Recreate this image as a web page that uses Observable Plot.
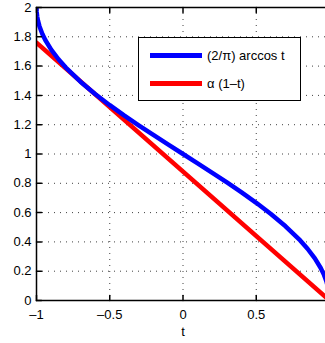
<!DOCTYPE html>
<html>
<head>
<meta charset="utf-8">
<script src="https://cdn.jsdelivr.net/npm/d3@7"></script>
<script src="https://cdn.jsdelivr.net/npm/@observablehq/plot@0.6"></script>
<style>
  html, body { margin: 0; padding: 0; background: #fff; overflow: hidden; }
  #wrap { position: relative; width: 325px; height: 343px; overflow: hidden; }
  #legend { position: absolute; left: 138px; top: 37px; width: 161px; height: 62px; border: 1px solid #000; background: #fff;
    font-family: "Liberation Sans", Arial, sans-serif; font-size: 13px; color: #000; }
  .sw { position: absolute; left: 11px; width: 52px; height: 5px; }
  .lb { position: absolute; left: 68px; white-space: nowrap; line-height: 15px; }
</style>
</head>
<body>
<div id="wrap"></div>
<script>
// Curve 1: (2/π) arccos t
const tValues = [-1, -0.999, -0.995, -0.99, -0.98, -0.96, -0.94, -0.9, -0.85, -0.8, -0.7, -0.6, -0.5, -0.4, -0.3, -0.2, -0.1, 0,
  0.1, 0.2, 0.3, 0.4, 0.5, 0.6, 0.7, 0.8, 0.85, 0.9, 0.94, 0.96, 0.98, 0.99, 0.995, 0.999, 1];
const arccosValues = [2, 1.9715, 1.9363, 1.9099, 1.8725, 1.8193, 1.7783, 1.7129, 1.6468, 1.5903, 1.4936, 1.4097, 1.3333, 1.2620, 1.1940, 1.1282, 1.0638, 1,
  0.9362, 0.8718, 0.8060, 0.7380, 0.6667, 0.5903, 0.5064, 0.4097, 0.3532, 0.2871, 0.2217, 0.1807, 0.1275, 0.0901, 0.0637, 0.0285, 0];
// Curve 2: α (1−t)
const lineT = [-1, 1];
const lineValues = [1.76, 0];
const xTicks = [-1, -0.5, 0, 0.5, 1];
const xTickLabels = [-1, -0.5, 0, 0.5]; // the "1" label lies beyond the window in the reference
const yTicks = [0, 0.2, 0.4, 0.6, 0.8, 1, 1.2, 1.4, 1.6, 1.8, 2];
const seriesNames = ["(2/π) arccos t", "α (1–t)"];
const seriesColors = ["#0000ff", "#ff0000"];

const curve1 = tValues.map((t, i) => ({t, y: arccosValues[i]}));
const curve2 = lineT.map((t, i) => ({t, y: lineValues[i]}));

const tickShape = {draw(ctx, l) { ctx.moveTo(0, 0); ctx.lineTo(0, -l); }};
const fmt = d => d < 0 ? "\u2013" + String(-d) : String(d);

const chart = Plot.plot({
  width: 332,
  height: 343,
  marginLeft: 36,
  marginRight: 3,
  marginTop: 7,
  marginBottom: 43,
  style: {fontFamily: "'Liberation Sans', Arial, sans-serif", fontSize: "13px", color: "#000", background: "#fff"},
  x: {domain: [-1, 1]},
  y: {domain: [0, 2]},
  marks: [
    Plot.gridX(xTicks, {stroke: "#000", strokeOpacity: 0.75, strokeDasharray: "1,5"}),
    Plot.gridY(yTicks, {stroke: "#000", strokeOpacity: 0.75, strokeDasharray: "1,5"}),
    Plot.line(curve2, {x: "t", y: "y", stroke: seriesColors[1], strokeWidth: 4.5, clip: true}),
    Plot.line(curve1, {x: "t", y: "y", stroke: seriesColors[0], strokeWidth: 4.5, clip: true}),
    Plot.frame({stroke: "#000", strokeWidth: 1.5}),
    Plot.vector(xTicks, {x: d => d, y: 0, length: 5, anchor: "start", shape: tickShape, stroke: "#000"}),
    Plot.vector(xTicks, {x: d => d, y: 2, length: 5, rotate: 180, anchor: "start", shape: tickShape, stroke: "#000"}),
    Plot.vector(yTicks, {x: -1, y: d => d, length: 5, rotate: 90, anchor: "start", shape: tickShape, stroke: "#000"}),
    Plot.axisX(xTickLabels, {tickSize: 0, tickPadding: 9, tickFormat: fmt, fontSize: 13, label: null}),
    Plot.axisY(yTicks, {tickSize: 0, tickPadding: 5, tickFormat: fmt, fontSize: 13, label: null}),
    Plot.text(["t"], {x: 0, y: 0, dy: 31, text: d => d, fontSize: 13, frameAnchor: "middle"})
  ]
});
chart.style.maxWidth = "none";
chart.style.height = "343px";
chart.style.width = "332px";
chart.style.display = "block";
const wrap = document.getElementById("wrap");
wrap.appendChild(chart);

const legend = document.createElement("div");
legend.id = "legend";
seriesNames.forEach((name, i) => {
  const sw = document.createElement("div");
  sw.className = "sw";
  sw.style.top = (i === 0 ? 15 : 43) + "px";
  sw.style.background = seriesColors[i];
  legend.appendChild(sw);
  const lb = document.createElement("div");
  lb.className = "lb";
  lb.style.top = (i === 0 ? 10 : 38) + "px";
  lb.textContent = name;
  legend.appendChild(lb);
});
wrap.appendChild(legend);
</script>
</body>
</html>
